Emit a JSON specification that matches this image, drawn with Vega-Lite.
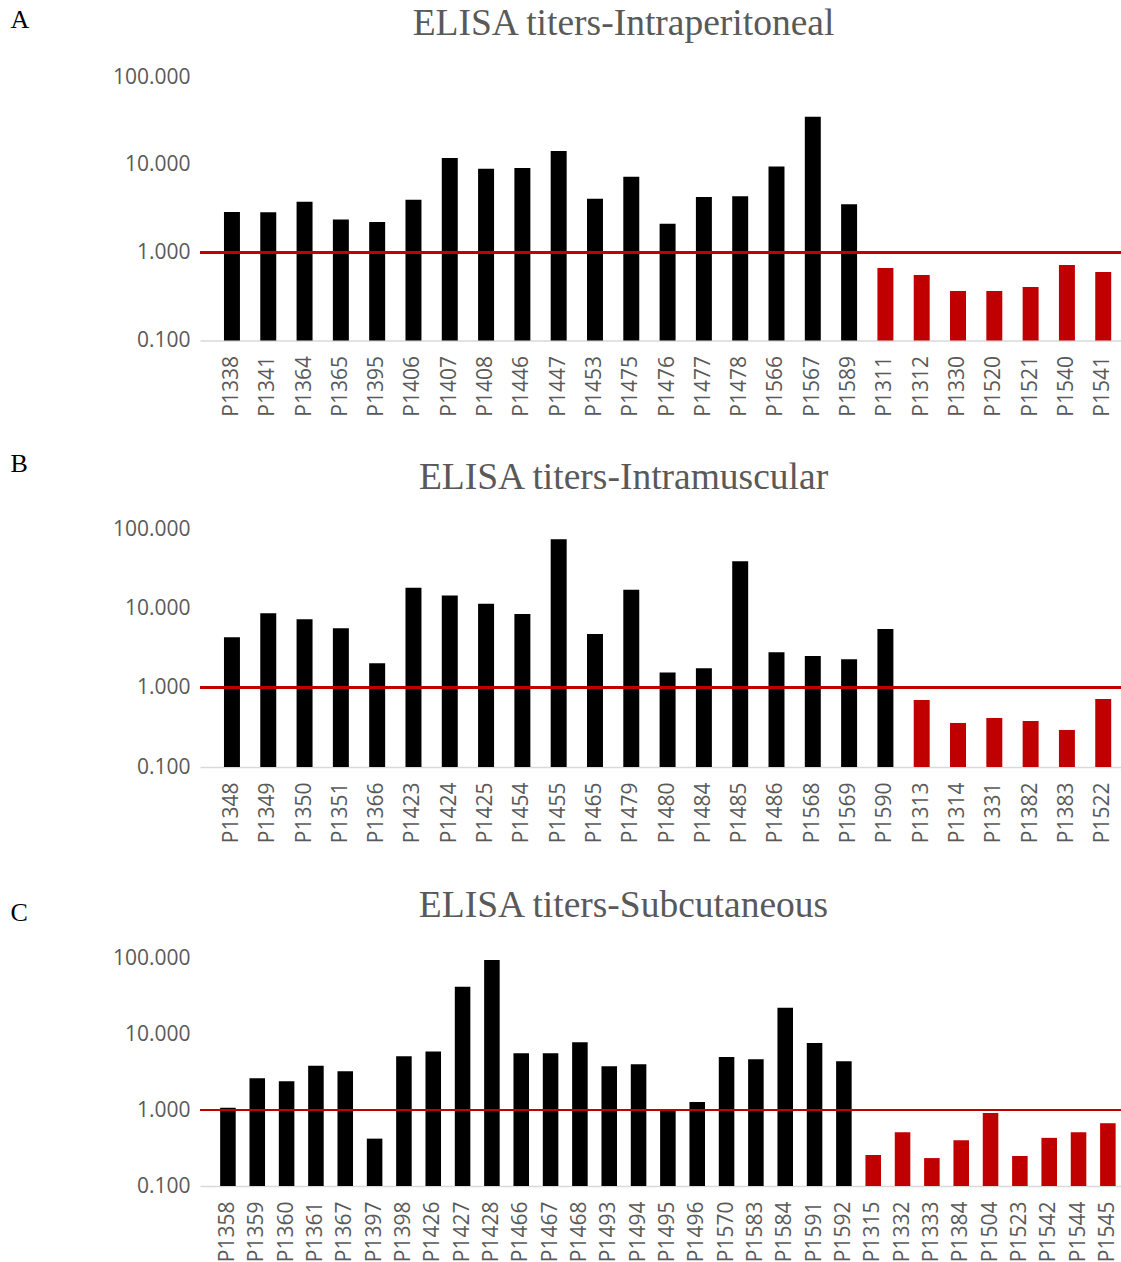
{
  "$schema": "https://vega.github.io/schema/vega-lite/v6.json",
  "padding": {"left": 10, "top": 4, "right": 0, "bottom": 0},
  "background": "white",
  "config": {
    "view": {"stroke": null},
    "axis": {"labelFont": "Open Sans", "labelFontSize": 21, "labelColor": "#595959", "ticks": false, "grid": false},
    "title": {"font": "Liberation Serif", "fontSize": 37.5, "fontWeight": "normal", "color": "#595959"},
    "concat": {"spacing": 33}
  },
  "datasets": {
    "titers": [
      {"panel": "A", "sample": "P1338", "titer": 2.9, "group": "above cutoff"},
      {"panel": "A", "sample": "P1341", "titer": 2.88, "group": "above cutoff"},
      {"panel": "A", "sample": "P1364", "titer": 3.8, "group": "above cutoff"},
      {"panel": "A", "sample": "P1365", "titer": 2.38, "group": "above cutoff"},
      {"panel": "A", "sample": "P1395", "titer": 2.24, "group": "above cutoff"},
      {"panel": "A", "sample": "P1406", "titer": 4.0, "group": "above cutoff"},
      {"panel": "A", "sample": "P1407", "titer": 12.0, "group": "above cutoff"},
      {"panel": "A", "sample": "P1408", "titer": 9.0, "group": "above cutoff"},
      {"panel": "A", "sample": "P1446", "titer": 9.2, "group": "above cutoff"},
      {"panel": "A", "sample": "P1447", "titer": 14.4, "group": "above cutoff"},
      {"panel": "A", "sample": "P1453", "titer": 4.1, "group": "above cutoff"},
      {"panel": "A", "sample": "P1475", "titer": 7.3, "group": "above cutoff"},
      {"panel": "A", "sample": "P1476", "titer": 2.14, "group": "above cutoff"},
      {"panel": "A", "sample": "P1477", "titer": 4.3, "group": "above cutoff"},
      {"panel": "A", "sample": "P1478", "titer": 4.4, "group": "above cutoff"},
      {"panel": "A", "sample": "P1566", "titer": 9.6, "group": "above cutoff"},
      {"panel": "A", "sample": "P1567", "titer": 35.2, "group": "above cutoff"},
      {"panel": "A", "sample": "P1589", "titer": 3.56, "group": "above cutoff"},
      {"panel": "A", "sample": "P1311", "titer": 0.67, "group": "below cutoff"},
      {"panel": "A", "sample": "P1312", "titer": 0.557, "group": "below cutoff"},
      {"panel": "A", "sample": "P1330", "titer": 0.366, "group": "below cutoff"},
      {"panel": "A", "sample": "P1520", "titer": 0.366, "group": "below cutoff"},
      {"panel": "A", "sample": "P1521", "titer": 0.407, "group": "below cutoff"},
      {"panel": "A", "sample": "P1540", "titer": 0.724, "group": "below cutoff"},
      {"panel": "A", "sample": "P1541", "titer": 0.603, "group": "below cutoff"},
      {"panel": "B", "sample": "P1348", "titer": 4.32, "group": "above cutoff"},
      {"panel": "B", "sample": "P1349", "titer": 8.67, "group": "above cutoff"},
      {"panel": "B", "sample": "P1350", "titer": 7.29, "group": "above cutoff"},
      {"panel": "B", "sample": "P1351", "titer": 5.61, "group": "above cutoff"},
      {"panel": "B", "sample": "P1366", "titer": 2.03, "group": "above cutoff"},
      {"panel": "B", "sample": "P1423", "titer": 18.2, "group": "above cutoff"},
      {"panel": "B", "sample": "P1424", "titer": 14.5, "group": "above cutoff"},
      {"panel": "B", "sample": "P1425", "titer": 11.4, "group": "above cutoff"},
      {"panel": "B", "sample": "P1454", "titer": 8.5, "group": "above cutoff"},
      {"panel": "B", "sample": "P1455", "titer": 74.3, "group": "above cutoff"},
      {"panel": "B", "sample": "P1465", "titer": 4.75, "group": "above cutoff"},
      {"panel": "B", "sample": "P1479", "titer": 17.1, "group": "above cutoff"},
      {"panel": "B", "sample": "P1480", "titer": 1.55, "group": "above cutoff"},
      {"panel": "B", "sample": "P1484", "titer": 1.76, "group": "above cutoff"},
      {"panel": "B", "sample": "P1485", "titer": 39.3, "group": "above cutoff"},
      {"panel": "B", "sample": "P1486", "titer": 2.79, "group": "above cutoff"},
      {"panel": "B", "sample": "P1568", "titer": 2.51, "group": "above cutoff"},
      {"panel": "B", "sample": "P1569", "titer": 2.28, "group": "above cutoff"},
      {"panel": "B", "sample": "P1590", "titer": 5.5, "group": "above cutoff"},
      {"panel": "B", "sample": "P1313", "titer": 0.70, "group": "below cutoff"},
      {"panel": "B", "sample": "P1314", "titer": 0.359, "group": "below cutoff"},
      {"panel": "B", "sample": "P1331", "titer": 0.415, "group": "below cutoff"},
      {"panel": "B", "sample": "P1382", "titer": 0.38, "group": "below cutoff"},
      {"panel": "B", "sample": "P1383", "titer": 0.293, "group": "below cutoff"},
      {"panel": "B", "sample": "P1522", "titer": 0.72, "group": "below cutoff"},
      {"panel": "C", "sample": "P1358", "titer": 1.07, "group": "above cutoff"},
      {"panel": "C", "sample": "P1359", "titer": 2.61, "group": "above cutoff"},
      {"panel": "C", "sample": "P1360", "titer": 2.39, "group": "above cutoff"},
      {"panel": "C", "sample": "P1361", "titer": 3.83, "group": "above cutoff"},
      {"panel": "C", "sample": "P1367", "titer": 3.23, "group": "above cutoff"},
      {"panel": "C", "sample": "P1397", "titer": 0.42, "group": "above cutoff"},
      {"panel": "C", "sample": "P1398", "titer": 5.1, "group": "above cutoff"},
      {"panel": "C", "sample": "P1426", "titer": 5.9, "group": "above cutoff"},
      {"panel": "C", "sample": "P1427", "titer": 41.9, "group": "above cutoff"},
      {"panel": "C", "sample": "P1428", "titer": 94, "group": "above cutoff"},
      {"panel": "C", "sample": "P1466", "titer": 5.6, "group": "above cutoff"},
      {"panel": "C", "sample": "P1467", "titer": 5.6, "group": "above cutoff"},
      {"panel": "C", "sample": "P1468", "titer": 7.78, "group": "above cutoff"},
      {"panel": "C", "sample": "P1493", "titer": 3.76, "group": "above cutoff"},
      {"panel": "C", "sample": "P1494", "titer": 3.99, "group": "above cutoff"},
      {"panel": "C", "sample": "P1495", "titer": 1.02, "group": "above cutoff"},
      {"panel": "C", "sample": "P1496", "titer": 1.27, "group": "above cutoff"},
      {"panel": "C", "sample": "P1570", "titer": 4.98, "group": "above cutoff"},
      {"panel": "C", "sample": "P1583", "titer": 4.64, "group": "above cutoff"},
      {"panel": "C", "sample": "P1584", "titer": 22.2, "group": "above cutoff"},
      {"panel": "C", "sample": "P1591", "titer": 7.62, "group": "above cutoff"},
      {"panel": "C", "sample": "P1592", "titer": 4.37, "group": "above cutoff"},
      {"panel": "C", "sample": "P1315", "titer": 0.256, "group": "below cutoff"},
      {"panel": "C", "sample": "P1332", "titer": 0.51, "group": "below cutoff"},
      {"panel": "C", "sample": "P1333", "titer": 0.233, "group": "below cutoff"},
      {"panel": "C", "sample": "P1384", "titer": 0.40, "group": "below cutoff"},
      {"panel": "C", "sample": "P1504", "titer": 0.91, "group": "below cutoff"},
      {"panel": "C", "sample": "P1523", "titer": 0.248, "group": "below cutoff"},
      {"panel": "C", "sample": "P1542", "titer": 0.43, "group": "below cutoff"},
      {"panel": "C", "sample": "P1544", "titer": 0.51, "group": "below cutoff"},
      {"panel": "C", "sample": "P1545", "titer": 0.67, "group": "below cutoff"}
    ]
  },
  "vconcat": [
    {
      "data": {"name": "titers"},
      "transform": [{"filter": "datum.panel === 'A'"}],
      "title": {"text": "ELISA titers-Intraperitoneal", "anchor": "middle", "frame": "group", "dx": -37, "baseline": "alphabetic", "offset": -66},
      "width": 921,
      "height": 263.5,
      "layer": [
        {
          "mark": {"type": "bar"},
          "encoding": {
            "x": {"field": "sample", "type": "nominal", "sort": null,
                  "scale": {"paddingInner": 0.56, "paddingOuter": 0.465, "align": 0.71},
                  "axis": {"title": null, "labelAngle": -90, "labelPadding": 15, "labelOverlap": false, "domainColor": "#d9d9d9", "domainWidth": 1.5}},
            "y": {"field": "titer", "type": "quantitative",
                  "scale": {"type": "log", "domain": [0.1, 100], "nice": false},
                  "axis": {"title": "A", "values": [0.1, 1, 10, 100], "format": ".3f", "domain": false, "labelPadding": 10,
                           "titleAngle": 0, "titleFont": "Liberation Serif", "titleFontSize": 26, "titleFontWeight": "normal", "titleColor": "black",
                           "titleAnchor": "end", "titleAlign": "left", "titleBaseline": "alphabetic", "titleX": -190, "titleY": -50}},
            "y2": {"datum": 0.1},
            "color": {"field": "group", "type": "nominal", "scale": {"domain": ["above cutoff", "below cutoff"], "range": ["#000000", "#c00000"]}, "legend": null}
          }
        },
        {"mark": {"type": "rule", "color": "#c00000", "strokeWidth": 2}, "encoding": {"y": {"datum": 1}}}
      ]
    },
    {
      "data": {"name": "titers"},
      "transform": [{"filter": "datum.panel === 'B'"}],
      "title": {"text": "ELISA titers-Intramuscular", "anchor": "middle", "frame": "group", "dx": -37, "baseline": "alphabetic", "offset": -76},
      "width": 921,
      "height": 238,
      "layer": [
        {
          "mark": {"type": "bar"},
          "encoding": {
            "x": {"field": "sample", "type": "nominal", "sort": null,
                  "scale": {"paddingInner": 0.56, "paddingOuter": 0.465, "align": 0.71},
                  "axis": {"title": " ", "titleFontSize": 1, "titlePadding": 8.5, "labelAngle": -90, "labelPadding": 15, "labelOverlap": false, "domainColor": "#d9d9d9", "domainWidth": 1.5}},
            "y": {"field": "titer", "type": "quantitative",
                  "scale": {"type": "log", "domain": [0.1, 100], "nice": false},
                  "axis": {"title": "B", "values": [0.1, 1, 10, 100], "format": ".3f", "domain": false, "labelPadding": 10,
                           "titleAngle": 0, "titleFont": "Liberation Serif", "titleFontSize": 26, "titleFontWeight": "normal", "titleColor": "black",
                           "titleAnchor": "end", "titleAlign": "left", "titleBaseline": "alphabetic", "titleX": -190, "titleY": -58}},
            "y2": {"datum": 0.1},
            "color": {"field": "group", "type": "nominal", "scale": {"domain": ["above cutoff", "below cutoff"], "range": ["#000000", "#c00000"]}, "legend": null}
          }
        },
        {"mark": {"type": "rule", "color": "#c00000", "strokeWidth": 2}, "encoding": {"y": {"datum": 1}}}
      ]
    },
    {
      "data": {"name": "titers"},
      "transform": [{"filter": "datum.panel === 'C'"}],
      "title": {"text": "ELISA titers-Subcutaneous", "anchor": "middle", "frame": "group", "dx": -37, "baseline": "alphabetic", "offset": -55},
      "width": 921,
      "height": 228,
      "layer": [
        {
          "mark": {"type": "bar"},
          "encoding": {
            "x": {"field": "sample", "type": "nominal", "sort": null,
                  "scale": {"paddingInner": 0.47, "paddingOuter": 0.435, "align": 0.79},
                  "axis": {"title": null, "labelAngle": -90, "labelPadding": 15, "labelOverlap": false, "domainColor": "#d9d9d9", "domainWidth": 1.5}},
            "y": {"field": "titer", "type": "quantitative",
                  "scale": {"type": "log", "domain": [0.1, 100], "nice": false},
                  "axis": {"title": "C", "values": [0.1, 1, 10, 100], "format": ".3f", "domain": false, "labelPadding": 10,
                           "titleAngle": 0, "titleFont": "Liberation Serif", "titleFontSize": 26, "titleFontWeight": "normal", "titleColor": "black",
                           "titleAnchor": "end", "titleAlign": "left", "titleBaseline": "alphabetic", "titleX": -190, "titleY": -38}},
            "y2": {"datum": 0.1},
            "color": {"field": "group", "type": "nominal", "scale": {"domain": ["above cutoff", "below cutoff"], "range": ["#000000", "#c00000"]}, "legend": null}
          }
        },
        {"mark": {"type": "rule", "color": "#c00000", "strokeWidth": 2}, "encoding": {"y": {"datum": 1}}}
      ]
    }
  ]
}
